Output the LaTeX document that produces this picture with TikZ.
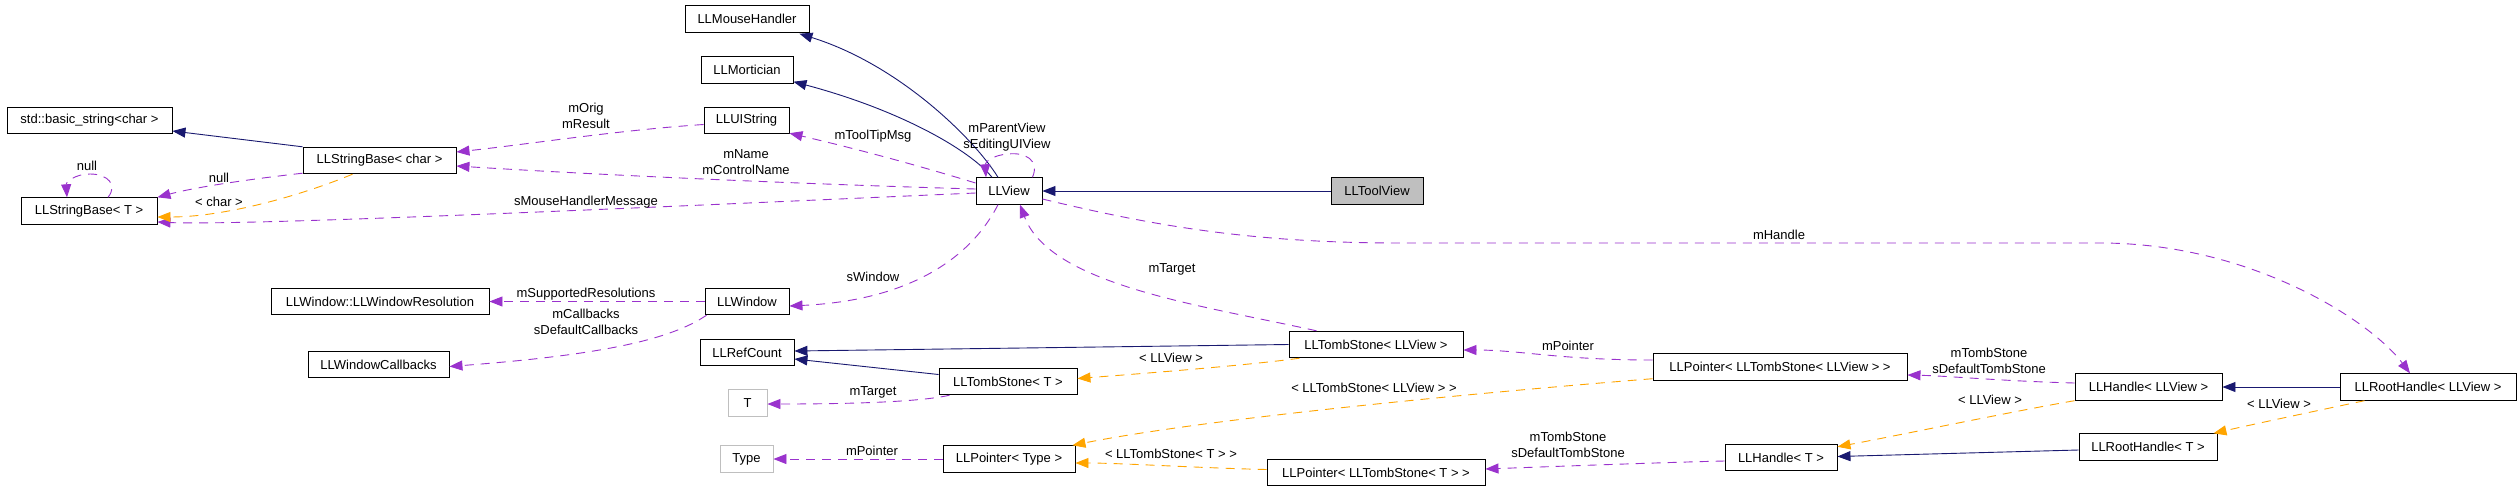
\documentclass[tikz,border=0pt]{standalone}
\usepackage{fontspec}
\setmainfont{Liberation Sans}
\usetikzlibrary{arrows.meta,calc}
\definecolor{navy}{RGB}{25,25,112}
\definecolor{orch}{RGB}{154,50,205}
\definecolor{orng}{RGB}{255,165,0}
\definecolor{gry}{RGB}{191,191,191}
\begin{document}
\begin{tikzpicture}[x=1pt,y=-1pt,
  box/.style={draw=black, line width=0.9pt, rectangle, minimum height=26.5pt, inner sep=2pt, font=\fontsize{13}{16}\selectfont, anchor=center},
  gbox/.style={box, draw=gry},
  lbl/.style={font=\fontsize{13}{16}\selectfont, align=center, inner sep=0pt},
  tip/.style={-{Triangle[length=13pt,width=10pt]}},
  inh/.style={draw=navy, line width=0.9pt, tip},
  usr/.style={draw=orch, line width=0.9pt, dash pattern=on 9pt off 7pt, tip},
  tmpl/.style={draw=orng, line width=0.9pt, dash pattern=on 9pt off 7pt, tip}]
\useasboundingbox[fill=white] (0,0) rectangle (2520,491);
% nodes
\node[box, minimum width=124pt] (mouse) at (747,19) {LLMouseHandler};
\node[box, minimum width=92pt] (mort) at (747,70) {LLMortician};
\node[box, minimum width=85pt] (uistr) at (746.5,120.5) {LLUIString};
\node[box, minimum width=165pt] (stdstr) at (89.5,120.5) {std::basic\_string<char >};
\node[box, minimum width=153pt] (sbchar) at (379.5,160.5) {LLStringBase< char >};
\node[box, minimum width=136pt] (sbT) at (89,211) {LLStringBase< T >};
\node[box, minimum width=66pt] (view) at (1009,191) {LLView};
\node[box, minimum width=92pt, fill=gry] (toolview) at (1377,191) {LLToolView};
\node[box, minimum width=218pt] (winres) at (380,301.5) {LLWindow::LLWindowResolution};
\node[box, minimum width=84pt] (window) at (747,301.5) {LLWindow};
\node[box, minimum width=141pt] (wincb) at (378.5,364.5) {LLWindowCallbacks};
\node[box, minimum width=94pt] (refcount) at (747,352.5) {LLRefCount};
\node[gbox, minimum width=39pt] (tT) at (747.5,403) {T};
\node[gbox, minimum width=53pt] (tType) at (746.5,459) {Type};
\node[box, minimum width=174pt] (tsview) at (1376,344.5) {LLTombStone< LLView >};
\node[box, minimum width=138pt] (tsT) at (1008,381.5) {LLTombStone< T >};
\node[box, minimum width=132pt] (ptype) at (1009,459) {LLPointer< Type >};
\node[box, minimum width=254pt] (ptsview) at (1780,367) {LLPointer< LLTombStone< LLView > >};
\node[box, minimum width=218pt] (ptsT) at (1376,472.5) {LLPointer< LLTombStone< T > >};
\node[box, minimum width=147pt] (hview) at (2148.5,387) {LLHandle< LLView >};
\node[box, minimum width=112pt] (hT) at (1781,457.5) {LLHandle< T >};
\node[box, minimum width=176pt] (rhview) at (2428,387) {LLRootHandle< LLView >};
\node[box, minimum width=138pt] (rhT) at (2148,447) {LLRootHandle< T >};
% edges
\draw[inh] (toolview.west) -- (view.east);
\draw[inh] ($(view.north)+(-11,0)$) .. controls (975,140) and (900,65) .. ($(mouse.south east)+(-10,1)$);
\draw[inh] ($(view.north)+(-17,0)$) .. controls (970,150) and (900,110) .. ($(mort.south east)+(0,-2)$);
\draw[usr] ($(view.west)+(0,-8)$) .. controls (900,160) and (840,145) .. ($(uistr.south east)+(0,-1)$);
\draw[usr] ($(view.north east)+(-10,0)$) .. controls (1040,160) and (1025,152) .. (1008,154) .. controls (993,155) and (985,162) .. ($(view.north)+(-23,0)$);
\draw[usr] ($(view.west)+(0,-2)$) .. controls (800,184) and (600,175) .. ($(sbchar.east)+(0,5.5)$);
\draw[usr] ($(uistr.west)+(0,4)$) .. controls (620,130) and (530,144) .. ($(sbchar.east)+(0,-8.5)$);
\draw[usr] ($(view.west)+(0,2)$) .. controls (700,205) and (250,226) .. ($(sbT.east)+(0,11)$);
\draw[inh] (sbchar.north west) -- ($(stdstr.east)+(0,10.5)$);
\draw[usr] ($(sbchar.south west)+(0,-1)$) .. controls (260,178) and (200,186) .. (sbT.north east);
\draw[tmpl] ($(sbchar.south)+(-27,0)$) .. controls (310,192) and (230,217) .. ($(sbT.east)+(0,6)$);
\draw[usr] ($(sbT.north)+(19,0)$) .. controls (118,185) and (108,174) .. (90,174) .. controls (75,174) and (66,182) .. ($(sbT.north)+(-22,0)$);
\draw[usr] ($(view.south)+(-11,0)$) .. controls (975,250) and (920,300) .. ($(window.east)+(0,4.5)$);
\draw[usr] (window.west) -- (winres.east);
\draw[usr] ($(window.south west)+(2,0)$) .. controls (670,340) and (600,355) .. ($(wincb.east)+(0,2)$);
\draw[usr] ($(tsview.north west)+(28,0)$) .. controls (1200,305) and (1050,285) .. ($(view.south)+(11,0)$);
\draw[usr] ($(view.east)+(0,8)$) .. controls (1150,225) and (1250,243) .. (1400,243) -- (2100,243) .. controls (2250,243) and (2370,320) .. ($(rhview.north)+(-18,0)$);
\draw[inh] (tsview.west) -- ($(refcount.east)+(0,-1.5)$);
\draw[inh] ($(tsT.west)+(0,-7)$) -- ($(refcount.east)+(0,6.5)$);
\draw[tmpl] ($(tsview.south west)+(11,0)$) .. controls (1250,365) and (1150,373) .. ($(tsT.east)+(0,-3)$);
\draw[usr] ($(tsT.south west)+(11,0)$) .. controls (920,402) and (850,404) .. ($(tT.east)+(0,1)$);
\draw[usr] ($(ptsview.west)+(0,-7)$) .. controls (1560,360) and (1520,350) .. ($(tsview.east)+(0,5.5)$);
\draw[tmpl] ($(ptsview.south west)+(0,-2)$) .. controls (1450,395) and (1200,420) .. ($(ptype.north east)+(-3,0)$);
\draw[tmpl] ($(ptsT.west)+(0,-3)$) .. controls (1200,468) and (1120,463) .. ($(ptype.east)+(0,4)$);
\draw[usr] (ptype.west) -- (tType.east);
\draw[usr] ($(hview.west)+(0,-4)$) .. controls (2000,381) and (1950,376) .. ($(ptsview.east)+(0,8)$);
\draw[tmpl] (hview.south west) .. controls (2020,410) and (1900,435) .. ($(hT.north east)+(0,3)$);
\draw[inh] ($(rhT.west)+(0,3)$) -- ($(hT.east)+(0,-1)$);
\draw[usr] ($(hT.west)+(0,3.5)$) .. controls (1680,462) and (1593,465) .. ($(ptsT.east)+(0,-3.5)$);
\draw[inh] (rhview.west) -- (hview.east);
\draw[tmpl] ($(rhview.south west)+(25,0)$) .. controls (2320,410) and (2250,425) .. ($(rhT.north east)+(-4,0)$);
% labels
\node[lbl] (lnull1) at (87,166) {null};
\node[lbl] (lnull2) at (219,178) {null};
\node[lbl] (lchar) at (219,202) {< char >};
\node[lbl] (lorig) at (586,116) {mOrig\\mResult};
\node[lbl] (lname) at (746,162) {mName\\mControlName};
\node[lbl] (lsmh) at (586,202) {sMouseHandlerMessage};
\node[lbl] (ltip) at (873,136) {mToolTipMsg};
\node[lbl] (lparent) at (1007,137) {mParentView\\sEditingUIView};
\node[lbl] (lsres) at (586,294) {mSupportedResolutions};
\node[lbl] (lcb) at (586,322) {mCallbacks\\sDefaultCallbacks};
\node[lbl] (lswin) at (873,277) {sWindow};
\node[lbl] (ltarget1) at (1172,269) {mTarget};
\node[lbl] (lhandle) at (1779,235) {mHandle};
\node[lbl] (lllview1) at (1171,358) {< LLView >};
\node[lbl] (ltarget2) at (873,392) {mTarget};
\node[lbl] (lptr1) at (872,451) {mPointer};
\node[lbl] (ltsT) at (1171,454) {< LLTombStone< T > >};
\node[lbl] (lptr2) at (1568,346) {mPointer};
\node[lbl] (ltsview) at (1374,388) {< LLTombStone< LLView > >};
\node[lbl] (ltomb1) at (1568,445) {mTombStone\\sDefaultTombStone};
\node[lbl] (ltomb2) at (1989,361) {mTombStone\\sDefaultTombStone};
\node[lbl] (lllview2) at (1990,400) {< LLView >};
\node[lbl] (lllview3) at (2279,404) {< LLView >};
\end{tikzpicture}
\end{document}
